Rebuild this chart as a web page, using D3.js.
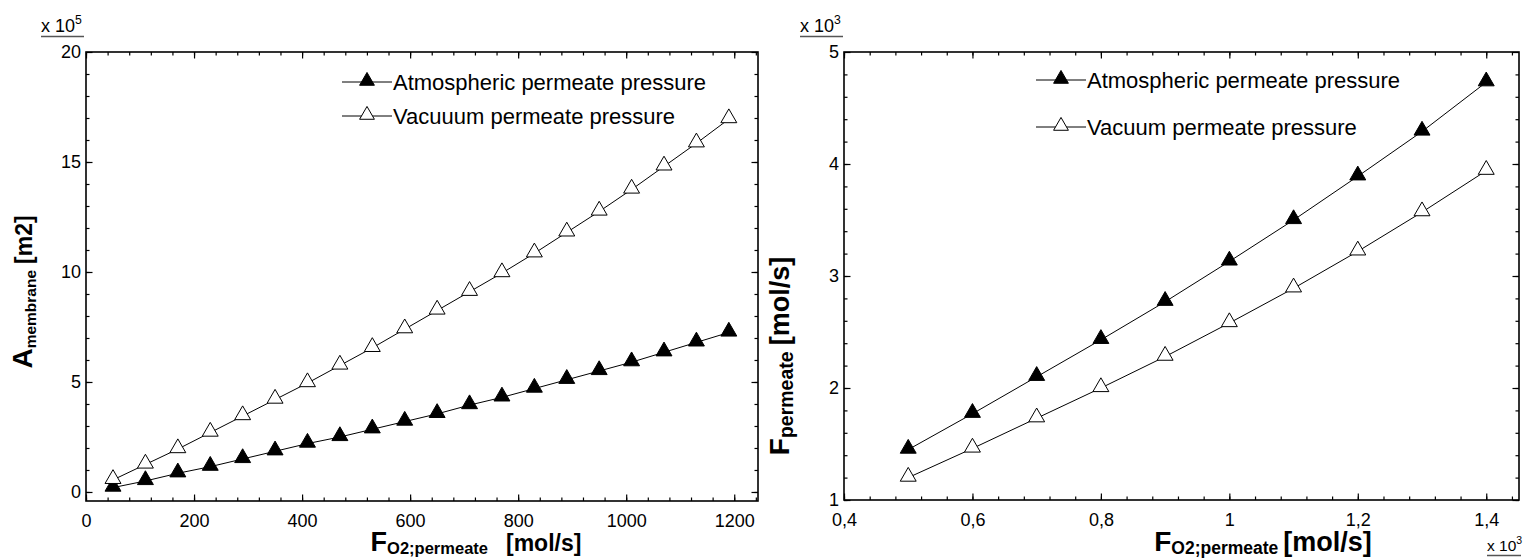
<!DOCTYPE html>
<html>
<head>
<meta charset="utf-8">
<script src="https://cdn.jsdelivr.net/npm/d3@7"></script>
<style>
  body { margin: 0; background: #fff; }
  svg { display: block; font-family: "Liberation Sans", Arial, sans-serif; }
  .frame { fill: none; stroke: #000; stroke-width: 1.6px; }
  .axis path { display: none; }
  .axis line { stroke: #000; stroke-width: 1.2px; }
  .axis text { font-size: 18px; fill: #000; }
  .series { fill: none; stroke: #000; stroke-width: 1px; }
  .legend text { font-size: 22px; fill: #000; }
  .title { font-weight: bold; fill: #000; }
</style>
</head>
<body>
<svg id="chart" width="1524" height="560"></svg>
<script>
// left panel: membrane area (x 10^5 m2) vs O2 permeate flow
var flowLeft = [50, 110, 170, 230, 290, 350, 410, 470, 530, 590, 650, 710, 770, 830, 890, 950, 1010, 1070, 1130, 1190];
var areaAtm = [0.2, 0.5, 0.85, 1.15, 1.5, 1.85, 2.2, 2.5, 2.85, 3.2, 3.55, 3.95, 4.3, 4.7, 5.1, 5.5, 5.9, 6.35, 6.8, 7.25];
var areaVac = [0.55, 1.25, 1.95, 2.7, 3.45, 4.2, 4.95, 5.75, 6.55, 7.4, 8.25, 9.1, 9.95, 10.85, 11.8, 12.75, 13.75, 14.8, 15.85, 16.95];

// right panel: permeate flow (x 10^3 mol/s) vs O2 permeate flow (x 10^3)
var flowRight = [0.5, 0.6, 0.7, 0.8, 0.9, 1.0, 1.1, 1.2, 1.3, 1.4];
var permAtm = [1.45, 1.77, 2.1, 2.43, 2.77, 3.13, 3.5, 3.89, 4.29, 4.73];
var permVac = [1.2, 1.46, 1.73, 2.0, 2.28, 2.58, 2.89, 3.22, 3.57, 3.94];

var leftXTicks = [0, 200, 400, 600, 800, 1000, 1200];
var leftYTicks = [0, 5, 10, 15, 20];
var rightXTicks = [0.4, 0.6, 0.8, 1.0, 1.2, 1.4];
var rightYTicks = [1, 2, 3, 4, 5];

var legendLeft = ["Atmospheric permeate pressure", "Vacuuum permeate pressure"];
var legendRight = ["Atmospheric permeate pressure", "Vacuum permeate pressure"];

var svg = d3.select("#chart");
var tri = d3.symbol().type(d3.symbolTriangle).size(110);
var triSmall = d3.symbol().type(d3.symbolTriangle).size(95);

function commaFmt(d) { return String(+d.toFixed(1)).replace(".", ","); }

function panel(cfg) {
  var x = d3.scaleLinear().domain(cfg.xDomain).range([cfg.left, cfg.right]);
  var y = d3.scaleLinear().domain(cfg.yDomain).range([cfg.bottom, cfg.top]);
  var g = svg.append("g");

  // minor ticks on all four sides
  var xMinor = d3.range(cfg.xDomain[0], cfg.xDomain[1], cfg.xMinor);
  var yMinor = d3.range(cfg.yMinorStart, cfg.yDomain[1], cfg.yMinor);
  g.append("g").attr("class", "axis").attr("transform", "translate(0," + cfg.bottom + ")")
      .call(d3.axisBottom(x).tickValues(xMinor).tickSize(-3.5).tickFormat(""));
  g.append("g").attr("class", "axis").attr("transform", "translate(0," + cfg.top + ")")
      .call(d3.axisTop(x).tickValues(xMinor).tickSize(-3.5).tickFormat(""));
  g.append("g").attr("class", "axis").attr("transform", "translate(" + cfg.left + ",0)")
      .call(d3.axisLeft(y).tickValues(yMinor).tickSize(-3.5).tickFormat(""));
  g.append("g").attr("class", "axis").attr("transform", "translate(" + cfg.right + ",0)")
      .call(d3.axisRight(y).tickValues(yMinor).tickSize(-3.5).tickFormat(""));

  // major ticks
  g.append("g").attr("class", "axis").attr("transform", "translate(0," + cfg.bottom + ")")
      .call(d3.axisBottom(x).tickValues(cfg.xTicks).tickSize(-6.5).tickPadding(13).tickFormat(cfg.fmt));
  g.append("g").attr("class", "axis").attr("transform", "translate(0," + cfg.top + ")")
      .call(d3.axisTop(x).tickValues(cfg.xTicks).tickSize(-6.5).tickFormat(""));
  g.append("g").attr("class", "axis").attr("transform", "translate(" + cfg.left + ",0)")
      .call(d3.axisLeft(y).tickValues(cfg.yTicks).tickSize(-6.5).tickPadding(5).tickFormat(cfg.fmt));
  g.append("g").attr("class", "axis").attr("transform", "translate(" + cfg.right + ",0)")
      .call(d3.axisRight(y).tickValues(cfg.yTicks).tickSize(-6.5).tickFormat(""));

  g.append("rect").attr("class", "frame")
      .attr("x", cfg.left).attr("y", cfg.top)
      .attr("width", cfg.right - cfg.left).attr("height", cfg.bottom - cfg.top);

  var line = d3.line().x(function(d) { return x(d[0]); }).y(function(d) { return y(d[1]); });

  cfg.series.forEach(function(s) {
    var pts = d3.zip(cfg.xs, s.values);
    g.append("path").attr("class", "series").attr("d", line(pts));
    g.selectAll(null).data(pts).enter().append("path")
        .attr("d", tri)
        .attr("transform", function(d) { return "translate(" + x(d[0]) + "," + (y(d[1]) - 1) + ")"; })
        .attr("fill", s.fill).attr("stroke", "#000").attr("stroke-width", 1);
  });

  // legend
  var lg = g.append("g").attr("class", "legend");
  cfg.series.forEach(function(s, i) {
    var ly = cfg.legendY[i];
    lg.append("line").attr("x1", cfg.legendX).attr("x2", cfg.legendX + 50)
        .attr("y1", ly).attr("y2", ly).attr("stroke", "#000").attr("stroke-width", 1);
    lg.append("path").attr("d", triSmall)
        .attr("transform", "translate(" + (cfg.legendX + 25) + "," + (ly - 1) + ")")
        .attr("fill", s.fill).attr("stroke", "#000");
    lg.append("text").attr("x", cfg.legendX + 51).attr("y", ly + 7.5).text(s.name);
  });
  return { x: x, y: y };
}

panel({
  left: 86, right: 758, top: 52, bottom: 501,
  xDomain: [0, 1244], yDomain: [-0.41, 20],
  xTicks: leftXTicks, yTicks: leftYTicks,
  xMinor: 40, yMinor: 1, yMinorStart: 0,
  fmt: function(d) { return d; },
  xs: flowLeft,
  series: [
    { values: areaAtm, fill: "#000", name: legendLeft[0] },
    { values: areaVac, fill: "#fff", name: legendLeft[1] }
  ],
  legendX: 342, legendY: [82, 116]
});

panel({
  left: 844, right: 1519, top: 52, bottom: 500,
  xDomain: [0.4, 1.451], yDomain: [1, 5],
  xTicks: rightXTicks, yTicks: rightYTicks,
  xMinor: 0.04, yMinor: 0.2, yMinorStart: 1,
  fmt: commaFmt,
  xs: flowRight,
  series: [
    { values: permAtm, fill: "#000", name: legendRight[0] },
    { values: permVac, fill: "#fff", name: legendRight[1] }
  ],
  legendX: 1036, legendY: [80, 127]
});

// exponent labels
function expLabel(xs, xe, yb, exp, size) {
  var t = svg.append("text").attr("x", xs).attr("y", yb).attr("font-size", size);
  t.append("tspan").text("x 10");
  t.append("tspan").attr("dy", -size * 0.45).attr("font-size", size * 0.68).text(exp);
  svg.append("line").attr("x1", xs).attr("x2", xe).attr("y1", yb + 4.5).attr("y2", yb + 4.5)
      .attr("stroke", "#555").attr("stroke-width", 1.5);
}
expLabel(41, 84, 32, "5", 18);
expLabel(800, 843, 32, "3", 18);
expLabel(1487, 1521, 551, "3", 15.5);

// axis titles
function xTitle(cx, gap, sizes) {
  var t = svg.append("text").attr("class", "title").attr("x", cx).attr("y", 551)
      .attr("text-anchor", "middle");
  t.append("tspan").attr("font-size", sizes[0]).text("F");
  t.append("tspan").attr("font-size", sizes[1]).attr("dy", 3).text("O2;permeate");
  t.append("tspan").attr("font-size", sizes[2]).attr("dy", -3).attr("dx", gap).text("[mol/s]");
}
xTitle(476, 18, [27, 16.5, 23]);
xTitle(1263, 5, [28, 17.5, 27]);

function yTitle(bx, cy, big, sub, rest, sizes) {
  var t = svg.append("text").attr("class", "title")
      .attr("transform", "translate(" + bx + "," + cy + ") rotate(-90)")
      .attr("text-anchor", "middle");
  t.append("tspan").attr("font-size", sizes[0]).text(big);
  t.append("tspan").attr("font-size", sizes[1]).attr("dy", 4).text(sub);
  t.append("tspan").attr("font-size", sizes[2]).attr("dy", -4).attr("dx", 6).text(rest);
}
yTitle(32, 292, "A", "membrane", "[m2]", [28, 15.5, 23]);
yTitle(789, 356, "F", "permeate", "[mol/s]", [28, 19.5, 27]);
</script>
</body>
</html>
